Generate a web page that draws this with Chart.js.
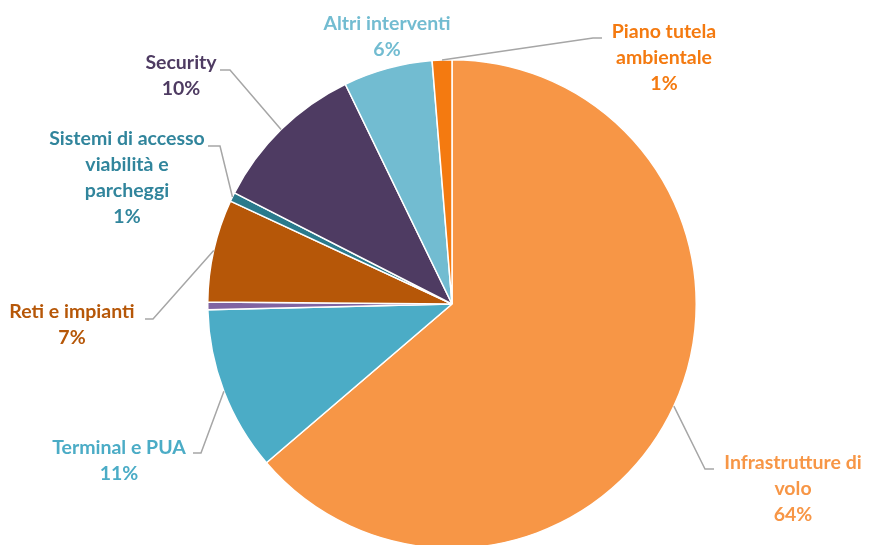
<!DOCTYPE html>
<html>
<head>
<meta charset="utf-8">
<script src="https://cdn.jsdelivr.net/npm/chart.js@4.4.1/dist/chart.umd.min.js"></script>
<style>
  html, body { margin: 0; padding: 0; background: #fff; overflow: hidden; }
  #wrap { position: absolute; left: 0; top: 0; width: 869px; height: 560px; }
</style>
</head>
<body>
<div id="wrap"><canvas id="pieChart"></canvas></div>
<script>
// categorie (righe del testo dell'etichetta)
const categories = [
  ['Infrastrutture di', 'volo'],
  ['Terminal e PUA'],
  [''],
  ['Reti e impianti'],
  ['Sistemi di accesso', 'viabilità e', 'parcheggi'],
  ['Security'],
  ['Altri interventi'],
  ['Piano tutela', 'ambientale']
];
const values = [63.8, 10.9, 0.5, 6.8, 0.6, 10.3, 5.9, 1.3];
const colors = ['#F79646', '#4BACC6', '#8064A2', '#B65708', '#2A7A8C', '#4E3B62', '#72BCD1', '#F47A10'];
const textColors = ['#F79646', '#4BACC6', '#8064A2', '#B65708', '#31859C', '#4E3B62', '#72BCD1', '#F47A10'];

// posizione etichette: centro testo (tx, ty prima riga), gomito (ex, ey), fine tratto orizzontale (sx)
const labelLayout = [
  { tx: 793, ty: 463, ex: 705, ey: 469, sx: 714 },
  { tx: 119, ty: 448, ex: 201, ey: 453, sx: 193 },
  null,
  { tx: 72, ty: 312, ex: 153, ey: 319, sx: 145 },
  { tx: 127, ty: 139, ex: 220, ey: 146, sx: 208 },
  { tx: 181, ty: 63, ex: 230, ey: 70, sx: 220 },
  { tx: 387, ty: 24, ex: null },
  { tx: 664, ty: 32, ex: 593, ey: 38, sx: 602 }
];

const total = values.reduce((a, b) => a + b, 0);

const pieLabels = {
  id: 'pieLabels',
  afterDatasetsDraw(chart) {
    const ctx = chart.ctx;
    const meta = chart.getDatasetMeta(0);
    ctx.save();
    meta.data.forEach((arc, i) => {
      const lay = labelLayout[i];
      if (!lay) return;
      const mid = (arc.startAngle + arc.endAngle) / 2;
      const ax = arc.x + Math.cos(mid) * arc.outerRadius;
      const ay = arc.y + Math.sin(mid) * arc.outerRadius;

      if (lay.ex !== null) {
        ctx.strokeStyle = '#A6A6A6';
        ctx.lineWidth = 1.5;
        ctx.beginPath();
        ctx.moveTo(ax, ay);
        ctx.lineTo(lay.ex, lay.ey);
        ctx.lineTo(lay.sx, lay.ey);
        ctx.stroke();
      }

      const lines = categories[i].concat([Math.round(values[i] / total * 100) + '%']);
      ctx.fillStyle = textColors[i];
      ctx.font = 'bold 19.5px Lato';
      ctx.textAlign = 'center';
      ctx.textBaseline = 'middle';
      lines.forEach((t, k) => {
        ctx.fillText(t, lay.tx, lay.ty + k * 26);
      });
    });
    ctx.restore();
  }
};

new Chart(document.getElementById('pieChart'), {
  type: 'pie',
  data: {
    labels: categories,
    datasets: [{
      data: values,
      backgroundColor: colors,
      borderColor: '#ffffff',
      borderWidth: 1.5
    }]
  },
  options: {
    responsive: true,
    maintainAspectRatio: false,
    animation: false,
    layout: { padding: { top: 59, bottom: 11, left: 207, right: 172 } },
    plugins: {
      legend: { display: false },
      tooltip: { enabled: false }
    }
  },
  plugins: [pieLabels]
});
</script>
</body>
</html>
